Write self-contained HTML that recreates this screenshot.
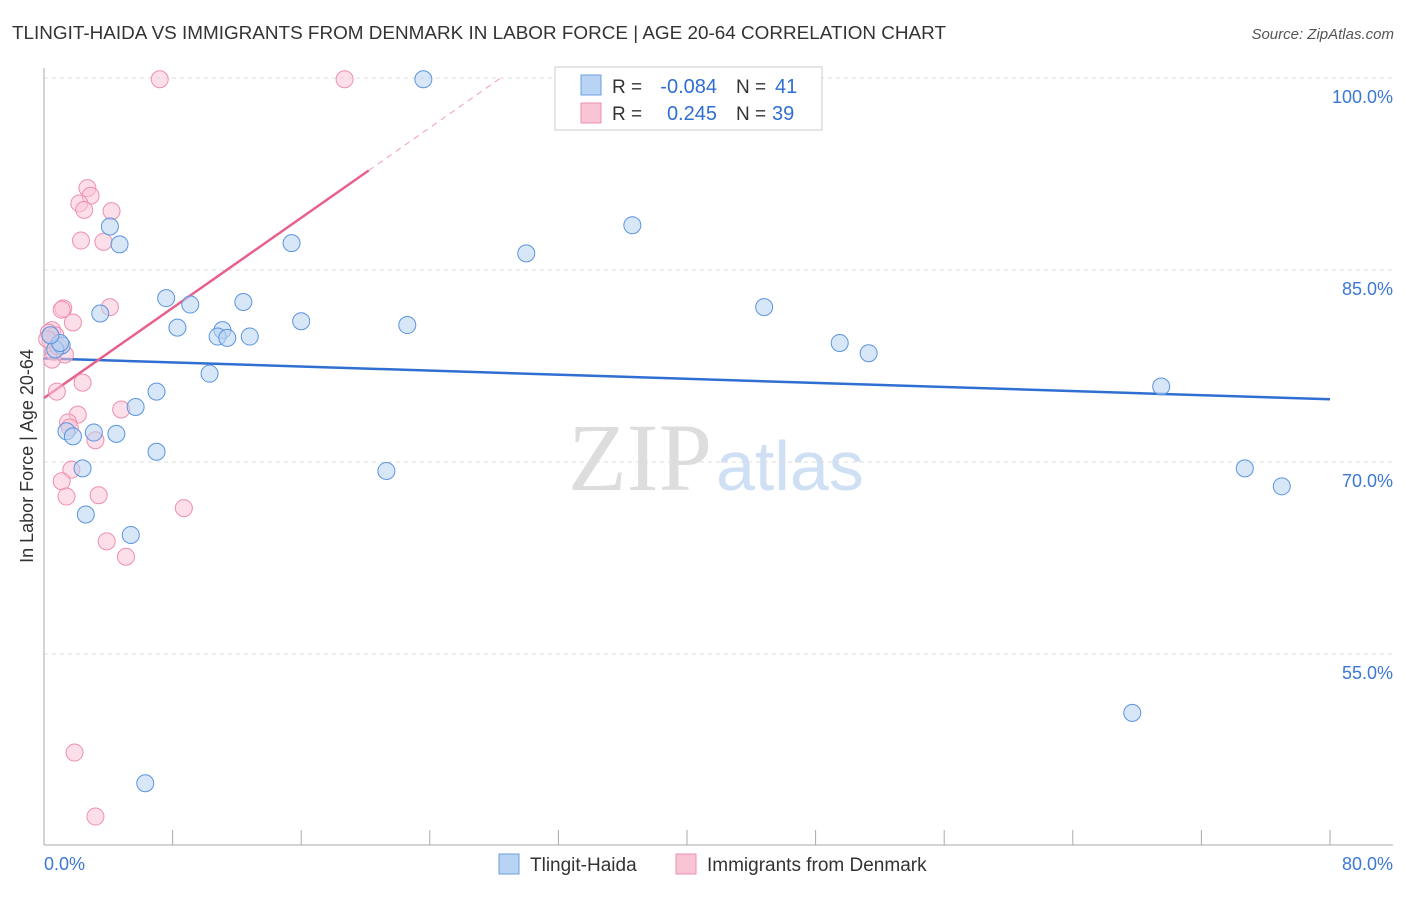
<!DOCTYPE html>
<html><head><meta charset="utf-8"><style>
body{margin:0;background:#fff;font-family:"Liberation Sans",sans-serif;}
</style></head><body>
<svg id="chart" width="1406" height="892" xmlns="http://www.w3.org/2000/svg">
<text x="12" y="39" font-size="18" fill="#333" textLength="934" lengthAdjust="spacingAndGlyphs">TLINGIT-HAIDA VS IMMIGRANTS FROM DENMARK IN LABOR FORCE | AGE 20-64 CORRELATION CHART</text>
<text x="1394" y="39" font-size="15" fill="#555" font-style="italic" text-anchor="end">Source: ZipAtlas.com</text>
<text x="712" y="490" font-size="96" fill="#ddd" text-anchor="end" font-family="Liberation Serif,serif">ZIP</text>
<text x="716" y="490" font-size="70" fill="#cfe0f5">atlas</text>
<text transform="translate(33,456) rotate(-90)" font-size="18" fill="#333" text-anchor="middle">In Labor Force | Age 20-64</text>
<g id="grid"></g><g id="axes"></g><g id="lines"></g><g id="pts"></g>
<g>
<rect x="555" y="67" width="267" height="63" fill="#fff" stroke="#ccc"/>
<rect x="581" y="75" width="20" height="20" fill="#b8d3f3" stroke="#6a9fe0"/>
<rect x="581" y="103" width="20" height="20" fill="#f9c5d5" stroke="#ee8faf"/>
<text x="612" y="93" font-size="19" fill="#333">R =</text>
<text x="717" y="93" font-size="20" fill="#2f6fd1" text-anchor="end">-0.084</text>
<text x="736" y="93" font-size="19" fill="#333">N =</text>
<text x="775" y="93" font-size="20" fill="#2f6fd1">41</text>
<text x="612" y="120" font-size="19" fill="#333">R =</text>
<text x="717" y="120" font-size="20" fill="#2f6fd1" text-anchor="end">0.245</text>
<text x="736" y="120" font-size="19" fill="#333">N =</text>
<text x="772" y="120" font-size="20" fill="#2f6fd1">39</text>
</g>
<g>
<rect x="499" y="854" width="20" height="20" fill="#b8d3f3" stroke="#6a9fe0"/>
<text x="530" y="871" font-size="19" fill="#333">Tlingit-Haida</text>
<rect x="676" y="854" width="20" height="20" fill="#f9c5d5" stroke="#ee8faf"/>
<text x="707" y="871" font-size="19" fill="#333">Immigrants from Denmark</text>
</g>
</svg>
<script>
const blueX=[23.6,4.1,4.7,15.4,30.0,36.6,7.6,9.1,12.4,3.5,8.3,16.0,22.6,11.1,10.8,11.4,12.8,44.8,49.5,51.3,69.5,1.1,0.7,1.0,10.3,7.0,5.7,1.4,1.8,3.1,4.5,7.0,21.3,2.4,74.7,77.0,2.6,5.4,67.7,6.3,0.4];
const blueY=[99.9,88.4,87.0,87.1,86.3,88.5,82.8,82.3,82.5,81.6,80.5,81.0,80.7,80.3,79.8,79.7,79.8,82.1,79.3,78.5,75.9,79.1,78.8,79.3,76.9,75.5,74.3,72.4,72.0,72.3,72.2,70.8,69.3,69.5,69.5,68.1,65.9,64.3,50.4,44.9,79.9];
const pinkX=[7.2,18.7,2.7,2.9,2.2,2.5,4.2,2.3,3.7,4.1,1.2,1.1,1.8,0.5,0.7,0.4,0.8,0.6,0.5,2.4,0.8,4.8,2.1,1.5,1.6,3.2,1.7,1.1,1.4,3.4,8.7,3.9,5.1,1.9,3.2,0.3,0.9,1.3,0.2];
const pinkY=[99.9,99.9,91.4,90.8,90.2,89.7,89.6,87.3,87.2,82.1,82.0,81.9,80.9,80.3,79.9,79.5,79.1,78.6,78.0,76.2,75.5,74.1,73.7,73.1,72.7,71.7,69.4,68.5,67.3,67.4,66.4,63.8,62.6,47.3,42.3,80.1,79.0,78.4,79.6];
const blueTrend=[78.1,74.9];
const pinkTrend=[75.0,0.88];
const yTicks=[100,85,70,55];
const NS="http://www.w3.org/2000/svg";
const sx=v=>44+v*16.075, sy=v=>78+(100-v)*12.8;
function mk(tag,attrs,parent){const e=document.createElementNS(NS,tag);for(const k in attrs)e.setAttribute(k,attrs[k]);document.getElementById(parent).appendChild(e);return e;}
yTicks.forEach(t=>{
 const l=mk('line',{x1:44,x2:1393,y1:sy(t),y2:sy(t),stroke:'#ddd','stroke-dasharray':'4,4'},'grid');
 
 
 const tx=mk('text',{x:1393,y:sy(t)+25,'font-size':18,fill:'#3a78d4','text-anchor':'end'},'grid');
 tx.textContent=t.toFixed(1)+'%';
 
 
});
mk('line',{x1:44,x2:44,y1:68,y2:845,stroke:'#aaa'},'axes');
mk('line',{x1:44,x2:1393,y1:845,y2:845,stroke:'#aaa'},'axes');
for(let i=0;i<=10;i++){const t=mk('line',{x1:sx(i*8),x2:sx(i*8),y1:830,y2:845,stroke:'#aaa'},'axes');
 
 }
const x0=mk('text',{x:44,y:870,'font-size':18,fill:'#3a78d4'},'axes');x0.textContent='0.0%';


const x1=mk('text',{x:1393,y:870,'font-size':18,fill:'#3a78d4','text-anchor':'end'},'axes');x1.textContent='80.0%';


function dots(xs,ys,fill,stroke,name){xs.forEach((x,i)=>{const c=mk('circle',{cx:sx(x),cy:sy(ys[i]),r:8.5,fill:fill,'fill-opacity':0.55,stroke:stroke,'stroke-width':1},'pts');
 
 });}
dots(pinkX,pinkY,'#f9c5d5','#ee8faf','denmark-point');
dots(blueX,blueY,'#b8d3f3','#5b94e0','tlingit-point');
const bl=mk('line',{x1:sx(0),y1:sy(blueTrend[0]),x2:sx(80),y2:sy(blueTrend[1]),stroke:'#2f6fd1','stroke-width':2.5},'lines');


const pEnd=20.2,pDash=(100-pinkTrend[0])/pinkTrend[1];
const pl=mk('line',{x1:sx(0),y1:sy(pinkTrend[0]),x2:sx(pEnd),y2:sy(pinkTrend[0]+pinkTrend[1]*pEnd),stroke:'#e8608a','stroke-width':2.5},'lines');


const pd=mk('line',{x1:sx(pEnd),y1:sy(pinkTrend[0]+pinkTrend[1]*pEnd),x2:sx(pDash),y2:sy(100),stroke:'#f0a0b8','stroke-width':1,'stroke-dasharray':'6,5'},'lines');


</script>
</body></html>
